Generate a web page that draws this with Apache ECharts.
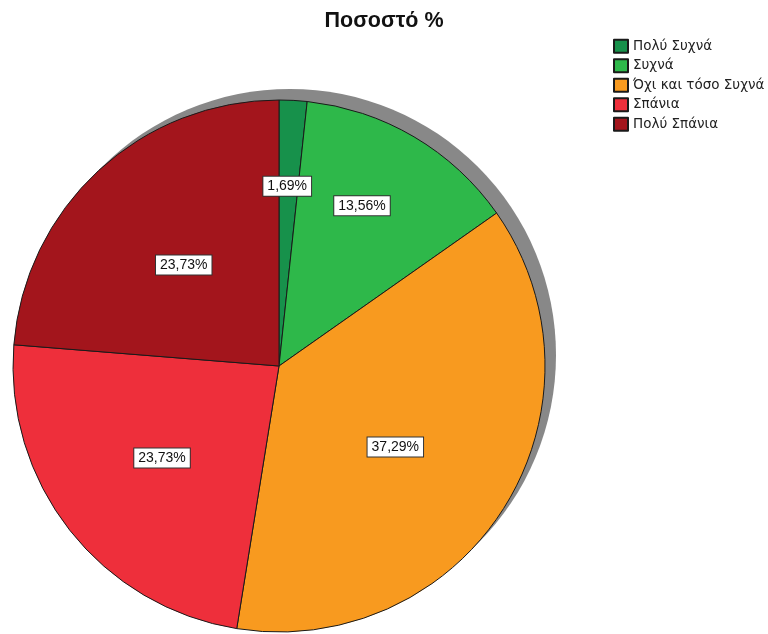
<!DOCTYPE html>
<html>
<head>
<meta charset="utf-8">
<script src="https://cdn.jsdelivr.net/npm/echarts@6/dist/echarts.min.js"></script>
<style>
  html, body { margin: 0; padding: 0; background: #ffffff; }
  #chart { width: 768px; height: 634px; }
</style>
</head>
<body>
<div id="chart"></div>
<script>
// Answer categories and their share of responses (%)
const categories = ['Πολύ Συχνά', 'Συχνά', 'Όχι και τόσο Συχνά', 'Σπάνια', 'Πολύ Σπάνια'];
const percentages = [1.69, 13.56, 37.29, 23.73, 23.73];
const sliceColors = ['#17914b', '#2eb84a', '#f89a1f', '#ee2f3b', '#a3151c'];
// nudges for the value boxes, relative to the default inside position
const labelNudges = [[1, -44], [14, -43], [1, 9], [-10, 8], [-3, -1]];

const center = [279, 366];
const radius = 266;

const chart = echarts.init(document.getElementById('chart'), null, { renderer: 'canvas' });

const sliceData = categories.map((name, i) => ({
  name: name,
  value: percentages[i],
  itemStyle: { color: sliceColors[i] },
  label: { offset: labelNudges[i] }
}));

chart.setOption({
  animation: false,
  backgroundColor: '#ffffff',
  title: {
    text: 'Ποσοστό %',
    left: 'center',
    top: 5,
    textStyle: { fontFamily: 'Liberation Sans, Arial, sans-serif', fontSize: 21.5, fontWeight: 'bold', color: '#111' }
  },
  legend: {
    data: categories,
    orient: 'vertical',
    left: 608,
    top: 33,
    itemWidth: 14,
    itemHeight: 13,
    itemGap: 3,
    icon: 'rect',
    textStyle: { fontFamily: 'DejaVu Sans, sans-serif', fontSize: 13.5, lineHeight: 16.5, color: '#222' }
  },
  series: [
    {
      // grey drop shadow behind the pie
      type: 'pie',
      silent: true,
      z: 1,
      center: [center[0] + 11, center[1] - 11],
      radius: radius,
      label: { show: false },
      labelLine: { show: false },
      itemStyle: { color: '#888888', borderWidth: 0 },
      data: [{ name: 'shadow', value: 1 }]
    },
    {
      type: 'pie',
      z: 2,
      center: center,
      radius: radius,
      startAngle: 90,
      clockwise: true,
      avoidLabelOverlap: false,
      itemStyle: { borderColor: '#1a1a1a', borderWidth: 1 },
      emphasis: { disabled: true },
      label: {
        show: true,
        position: 'inside',
        formatter: p => p.value.toFixed(2).replace('.', ',') + '%',
        fontFamily: 'Liberation Sans, Arial, sans-serif',
        fontSize: 14,
        color: '#111',
        backgroundColor: '#ffffff',
        borderColor: '#333333',
        borderWidth: 1,
        padding: [3, 4, 2, 4]
      },
      labelLine: { show: false },
      data: sliceData
    }
  ]
});
</script>
</body>
</html>
